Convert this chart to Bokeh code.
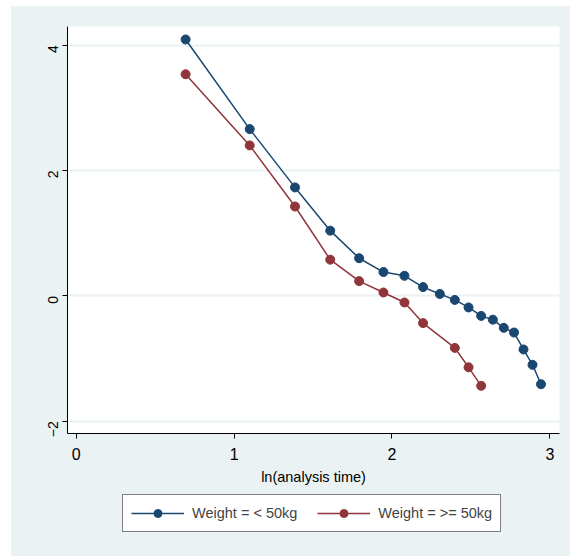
from bokeh.plotting import figure
from bokeh.models import Range1d, FixedTicker, Legend, LegendItem
from bokeh.layouts import column
from bokeh.embed import file_html
from bokeh.resources import INLINE
import math

# Data: ln(analysis time) and estimated values
x_light = [0.693, 1.099, 1.386, 1.609, 1.792, 1.946, 2.079, 2.197, 2.303,
           2.398, 2.485, 2.565, 2.639, 2.708, 2.773, 2.833, 2.890, 2.944]
y_light = [4.09, 2.66, 1.73, 1.04, 0.60, 0.38, 0.32, 0.14, 0.03,
           -0.065, -0.185, -0.32, -0.38, -0.51, -0.585, -0.855, -1.10, -1.41]

x_heavy = [0.693, 1.099, 1.386, 1.609, 1.792, 1.946, 2.079, 2.197,
           2.398, 2.485, 2.565]
y_heavy = [3.535, 2.40, 1.425, 0.577, 0.235, 0.053, -0.106, -0.435,
           -0.83, -1.14, -1.435]

x_ticks = [0, 1, 2, 3]
y_ticks = [-2, 0, 2, 4]
label_light = "Weight = < 50kg"
label_heavy = "Weight = >= 50kg"
x_label = "ln(analysis time)"

BLUE = "#1a476f"
RED = "#90353b"
BG = "#eaf2f3"
FONT = "Liberation Sans"

p = figure(frame_width=492, frame_height=407,
           min_border_left=56, min_border_top=20, min_border_right=11,
           min_border_bottom=55,
           x_range=Range1d(-0.055, 3.061), y_range=Range1d(-2.196, 4.297),
           output_backend="svg", toolbar_location=None)

p.border_fill_color = BG
p.background_fill_color = "white"
p.outline_line_color = None

p.xgrid.visible = False
p.ygrid.grid_line_color = BG
p.ygrid.grid_line_width = 2
p.ygrid.ticker = FixedTicker(ticks=y_ticks)

p.xaxis.ticker = FixedTicker(ticks=x_ticks)
p.yaxis.ticker = FixedTicker(ticks=y_ticks)
for ax in (p.xaxis[0], p.yaxis[0]):
    ax.axis_line_color = "black"
    ax.axis_line_width = 1
    ax.major_tick_line_color = "black"
    ax.major_tick_out = 5
    ax.major_tick_in = 0
    ax.minor_tick_line_color = None
    ax.major_label_text_color = "black"

p.xaxis.major_label_text_font = FONT
p.xaxis.major_label_text_font_size = "16px"
p.xaxis.major_label_standoff = 9
p.xaxis.axis_label = x_label
p.xaxis.axis_label_text_font = FONT
p.xaxis.axis_label_text_font_size = "14.5px"
p.xaxis.axis_label_text_font_style = "normal"
p.xaxis.axis_label_text_color = "black"
p.xaxis.axis_label_standoff = 6

p.yaxis.major_label_orientation = math.pi / 2
p.yaxis.major_label_text_font = FONT
p.yaxis.major_label_text_font_size = "14px"
p.yaxis.major_label_standoff = 9

p.line(x_light, y_light, line_color=BLUE, line_width=1.5)
p.scatter(x_light, y_light, size=9, fill_color=BLUE, line_color=BLUE)
p.line(x_heavy, y_heavy, line_color=RED, line_width=1.5)
p.scatter(x_heavy, y_heavy, size=9, fill_color=RED, line_color=RED)

# Legend strip below the plot (same series, renderers hidden; only the key is drawn)
lg = figure(frame_width=492, height=68, x_axis_type=None, y_axis_type=None,
            min_border_left=56, min_border_right=11,
            min_border_top=0, min_border_bottom=0,
            x_range=Range1d(-0.055, 3.061), y_range=Range1d(-2.196, 4.297),
            output_backend="svg", toolbar_location=None)
lg.border_fill_color = BG
lg.background_fill_color = BG
lg.outline_line_color = None
lg.grid.visible = False

k1 = lg.line(x_light, y_light, line_color=BLUE, line_width=1.5, visible=False)
k1s = lg.scatter(x_light, y_light, size=7, fill_color=BLUE, line_color=BLUE, visible=False)
k2 = lg.line(x_heavy, y_heavy, line_color=RED, line_width=1.5, visible=False)
k2s = lg.scatter(x_heavy, y_heavy, size=7, fill_color=RED, line_color=RED, visible=False)

legend = Legend(items=[LegendItem(label=label_light, renderers=[k1, k1s]),
                       LegendItem(label=label_heavy, renderers=[k2, k2s])],
                orientation="horizontal", location=(55, 24))
legend.border_line_color = "black"
legend.border_line_width = 1
legend.background_fill_color = "white"
legend.background_fill_alpha = 1
legend.label_text_font = FONT
legend.label_text_font_size = "14.5px"
legend.glyph_width = 53
legend.glyph_height = 20
legend.label_standoff = 8
legend.spacing = 20
legend.padding = 8
legend.margin = 0
legend.inactive_fill_alpha = 0
lg.add_layout(legend, "center")

layout = column(p, lg, spacing=0, margin=(6, 0, 0, 11),
                styles={"background-color": BG})
open("out.html", "w").write(file_html(layout, INLINE))
